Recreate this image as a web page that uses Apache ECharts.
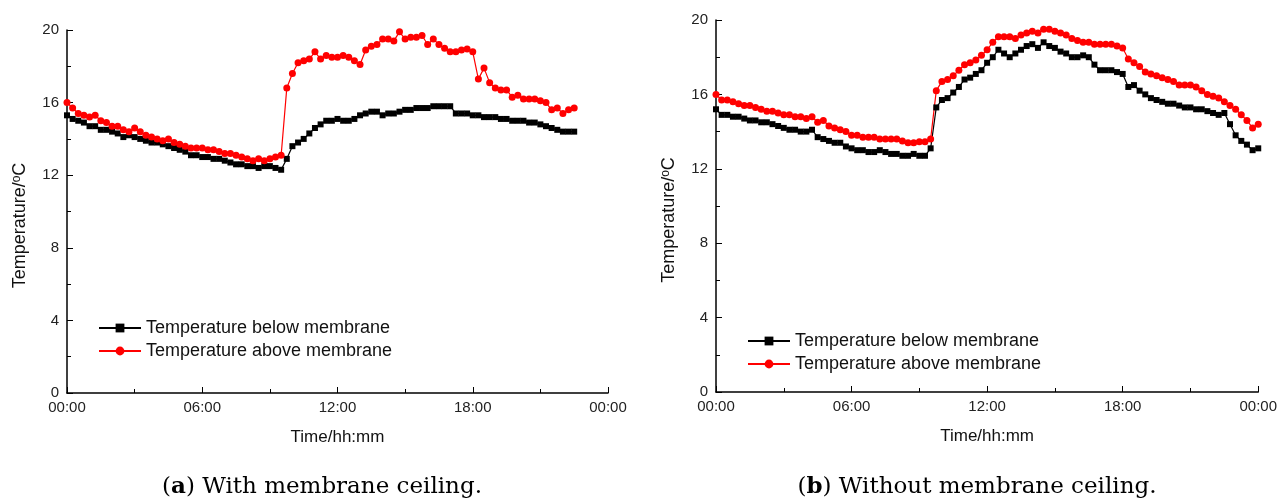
<!DOCTYPE html>
<html>
<head>
<meta charset="utf-8">
<script src="https://cdn.jsdelivr.net/npm/echarts@6/dist/echarts.min.js"></script>
<style>
  html, body { margin: 0; padding: 0; background: #fff; }
  #chart { width: 1280px; height: 501px; }
</style>
</head>
<body>
<div id="chart"></div>
<script>
// readings every 15 minutes, starting at 00:00
const stepHours = 0.25;
const hourTicks = ["00:00", "06:00", "12:00", "18:00", "00:00"];

// (a) with membrane ceiling, 00:00 - 22:30
const withBelow = [
  15.3, 15.1, 15.0, 14.9, 14.7, 14.7, 14.5, 14.5, 14.4, 14.3, 14.1, 14.2,
  14.1, 14.0, 13.9, 13.8, 13.8, 13.7, 13.6, 13.5, 13.4, 13.3, 13.1, 13.1,
  13.0, 13.0, 12.9, 12.9, 12.8, 12.7, 12.6, 12.6, 12.5, 12.5, 12.4, 12.5,
  12.5, 12.4, 12.3, 12.9, 13.6, 13.8, 14.0, 14.3, 14.6, 14.8, 15.0, 15.0,
  15.1, 15.0, 15.0, 15.1, 15.3, 15.4, 15.5, 15.5, 15.3, 15.4, 15.4, 15.5,
  15.6, 15.6, 15.7, 15.7, 15.7, 15.8, 15.8, 15.8, 15.8, 15.4, 15.4, 15.4,
  15.3, 15.3, 15.2, 15.2, 15.2, 15.1, 15.1, 15.0, 15.0, 15.0, 14.9, 14.9,
  14.8, 14.7, 14.6, 14.5, 14.4, 14.4, 14.4
];
const withAbove = [
  16.0, 15.7, 15.4, 15.3, 15.2, 15.3, 15.0, 14.9, 14.7, 14.7, 14.5, 14.4,
  14.6, 14.4, 14.2, 14.1, 14.0, 13.9, 14.0, 13.8, 13.7, 13.6, 13.5, 13.5,
  13.5, 13.4, 13.4, 13.3, 13.2, 13.2, 13.1, 13.0, 12.9, 12.8, 12.9, 12.8,
  12.9, 13.0, 13.1, 16.8, 17.6, 18.2, 18.3, 18.4, 18.8, 18.4, 18.6, 18.5,
  18.5, 18.6, 18.5, 18.3, 18.1, 18.9, 19.1, 19.2, 19.5, 19.5, 19.4, 19.9,
  19.5, 19.6, 19.6, 19.7, 19.2, 19.5, 19.2, 19.0, 18.8, 18.8, 18.9, 18.95,
  18.8, 17.3, 17.9, 17.1, 16.8, 16.7, 16.7, 16.3, 16.4, 16.2, 16.2, 16.2,
  16.1, 16.0, 15.6, 15.7, 15.4, 15.6, 15.7
];

// (b) without membrane ceiling, 00:00 - 24:00
const withoutBelow = [
  15.2, 14.9, 14.9, 14.8, 14.8, 14.7, 14.6, 14.6, 14.5, 14.5, 14.4, 14.3,
  14.2, 14.1, 14.1, 14.0, 14.0, 14.1, 13.7, 13.6, 13.5, 13.4, 13.4, 13.2,
  13.1, 13.0, 13.0, 12.9, 12.9, 13.0, 12.9, 12.8, 12.8, 12.7, 12.7, 12.8,
  12.7, 12.7, 13.1, 15.3, 15.7, 15.8, 16.1, 16.4, 16.8, 16.9, 17.1, 17.3,
  17.7, 18.0, 18.4, 18.2, 18.0, 18.2, 18.4, 18.6, 18.7, 18.5, 18.8, 18.6,
  18.5, 18.3, 18.2, 18.0, 18.0, 18.1, 18.0, 17.6, 17.3, 17.3, 17.3, 17.2,
  17.1, 16.4, 16.5, 16.2, 16.0, 15.8, 15.7, 15.6, 15.5, 15.5, 15.4, 15.3,
  15.3, 15.2, 15.2, 15.1, 15.0, 14.9, 15.0, 14.4, 13.8, 13.5, 13.3, 13.0,
  13.1
];
const withoutAbove = [
  16.0, 15.7, 15.7, 15.6, 15.5, 15.4, 15.4, 15.3, 15.2, 15.1, 15.1, 15.0,
  14.9, 14.9, 14.8, 14.8, 14.7, 14.8, 14.5, 14.6, 14.3, 14.2, 14.1, 14.0,
  13.8, 13.8, 13.7, 13.7, 13.7, 13.6, 13.6, 13.6, 13.6, 13.5, 13.4, 13.4,
  13.45, 13.45, 13.6, 16.2, 16.7, 16.8, 17.0, 17.3, 17.6, 17.7, 17.85, 18.1,
  18.4, 18.8, 19.1, 19.1, 19.1, 19.0, 19.2, 19.3, 19.4, 19.3, 19.5, 19.5,
  19.4, 19.3, 19.2, 19.0, 18.9, 18.8, 18.8, 18.7, 18.7, 18.7, 18.7, 18.6,
  18.5, 17.9, 17.7, 17.5, 17.2, 17.1, 17.0, 16.9, 16.8, 16.7, 16.5, 16.5,
  16.5, 16.4, 16.2, 16.0, 15.9, 15.8, 15.6, 15.4, 15.2, 14.9, 14.6, 14.2,
  14.4
];

const nameBelow = "Temperature below membrane";
const nameAbove = "Temperature above membrane";

function toPoints(arr) {
  return arr.map((v, i) => [i * stepHours, v]);
}

const textFont = "'Liberation Sans', Arial, sans-serif";
const captionFont = "'DejaVu Serif', serif";

function xAxisCfg(gridIndex) {
  return {
    type: "value", gridIndex: gridIndex, min: 0, max: 24, interval: 6,
    name: "Time/hh:mm", nameLocation: "middle", nameGap: 36,
    nameTextStyle: { fontFamily: textFont, fontSize: 17, color: "#111" },
    axisLine: { lineStyle: { color: "#000", width: 1.5 } },
    axisTick: { inside: true, length: 6, lineStyle: { color: "#000" } },
    minorTick: { show: true, splitNumber: 2, length: 4, lineStyle: { color: "#000" } },
    splitLine: { show: false },
    axisLabel: {
      fontFamily: textFont, fontSize: 15, color: "#222", margin: 7,
      formatter: v => hourTicks[v / 6]
    }
  };
}

function yAxisCfg(gridIndex) {
  return {
    type: "value", gridIndex: gridIndex, min: 0, max: 20, interval: 4,
    name: "Temperature/{sup|o}C", nameLocation: "middle", nameGap: 38,
    nameTextStyle: {
      fontFamily: textFont, fontSize: 18, color: "#111", padding: [0, 28, 0, 0],
      rich: { sup: { fontFamily: textFont, fontSize: 12, verticalAlign: "top", color: "#111" } }
    },
    axisLine: { show: true, lineStyle: { color: "#000", width: 1.5 } },
    axisTick: { show: true, inside: true, length: 6, lineStyle: { color: "#000" } },
    minorTick: { show: true, splitNumber: 2, length: 4, lineStyle: { color: "#000" } },
    splitLine: { show: false },
    axisLabel: { fontFamily: textFont, fontSize: 15, color: "#222", margin: 8 }
  };
}

function lineSeries(name, data, idx, color, symbol, size) {
  return {
    name: name, type: "line", xAxisIndex: idx, yAxisIndex: idx,
    data: toPoints(data), symbol: symbol, symbolSize: size, showSymbol: true,
    lineStyle: { color: color, width: 1.2 },
    itemStyle: { color: color },
    emphasis: { disabled: true }
  };
}

function captionCfg(letter, rest, x) {
  return {
    text: "({b|" + letter + "}) " + rest, left: x, top: 471, textAlign: "center",
    textStyle: {
      fontFamily: captionFont, fontSize: 23, fontWeight: "normal", color: "#000",
      rich: { b: { fontFamily: captionFont, fontSize: 23, fontWeight: "bold", color: "#000" } }
    }
  };
}

function legendCfg(x, y) {
  return {
    left: x, top: y, orient: "vertical", itemGap: 5, itemWidth: 42, itemHeight: 11,
    data: [nameBelow, nameAbove],
    textStyle: { fontFamily: textFont, fontSize: 18, color: "#111" }
  };
}

const chart = echarts.init(document.getElementById("chart"));
chart.setOption({
  animation: false,
  backgroundColor: "#fff",
  grid: [
    { left: 67, top: 30, width: 541, height: 363 },
    { left: 716, top: 20, width: 545, height: 372 }
  ],
  xAxis: [xAxisCfg(0), xAxisCfg(1)],
  yAxis: [yAxisCfg(0), yAxisCfg(1)],
  legend: [legendCfg(93, 314), legendCfg(742, 327)],
  title: [
    captionCfg("a", "With membrane ceiling.", 317),
    captionCfg("b", "Without membrane ceiling.", 972)
  ],
  series: [
    lineSeries(nameBelow, withBelow, 0, "#000", "rect", 6),
    lineSeries(nameAbove, withAbove, 0, "#ff0000", "circle", 7),
    lineSeries(nameBelow, withoutBelow, 1, "#000", "rect", 6),
    lineSeries(nameAbove, withoutAbove, 1, "#ff0000", "circle", 7)
  ]
});
</script>
</body>
</html>
